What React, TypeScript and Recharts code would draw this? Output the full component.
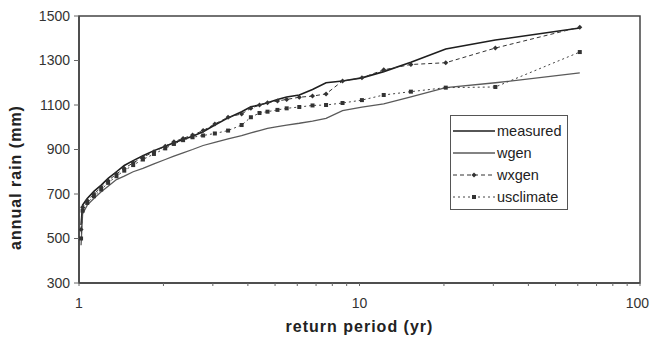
import { LineChart, Line, XAxis, YAxis, ReferenceArea, Legend, Label } from 'recharts';

// return periods (yr), ascending
const returnPeriod = [1.017, 1.03, 1.07, 1.13, 1.2, 1.27, 1.36, 1.45, 1.56, 1.69, 1.85, 2.03, 2.18, 2.35, 2.54, 2.77, 3.05, 3.4, 3.8, 4.1, 4.4, 4.7, 5.1, 5.5, 6.1, 6.8, 7.6, 8.7, 10.2, 12.2, 15.25, 20.3, 30.5, 61];

const measured = [560, 650, 680, 712, 740, 770, 800, 828, 850, 872, 895, 915, 930, 945, 960, 980, 1010, 1042, 1070, 1092, 1100, 1110, 1125, 1136, 1145, 1170, 1200, 1208, 1222, 1250, 1292, 1352, 1392, 1446];
const wgen = [470, 610, 650, 680, 710, 735, 765, 780, 800, 815, 835, 855, 870, 885, 900, 918, 932, 948, 962, 975, 985, 995, 1003, 1010, 1018, 1028, 1040, 1075, 1090, 1105, 1136, 1178, 1200, 1244];
const wxgen = [540, 640, 670, 700, 730, 760, 790, 815, 840, 865, 890, 915, 935, 950, 965, 985, 1015, 1045, 1060, 1085, 1100, 1110, 1118, 1125, 1135, 1140, 1150, 1208, 1222, 1258, 1282, 1290, 1356, 1450];
const usclimate = [500, 625, 660, 690, 720, 750, 780, 805, 830, 855, 880, 905, 925, 942, 955, 963, 972, 985, 1010, 1045, 1064, 1070, 1078, 1085, 1091, 1098, 1100, 1109, 1122, 1145, 1160, 1178, 1181, 1338];

const xTicks = [1, 2, 3, 4, 5, 6, 7, 8, 9, 10, 20, 30, 40, 50, 60, 70, 80, 90, 100];
const xLabels = [1, 10, 100];
const yTicks = [300, 500, 700, 900, 1100, 1300, 1500];

const data = returnPeriod.map((t, i) => ({
    t,
    measured: measured[i],
    wgen: wgen[i],
    wxgen: wxgen[i],
    usclimate: usclimate[i],
}));

const font = 'Liberation Sans, Arial, sans-serif';

const SquareDot = (props: any) => {
    const { cx, cy } = props;
    if (cx == null || cy == null) return null;
    return <rect x={cx - 2} y={cy - 2} width={4} height={4} fill="#333" />;
};

const DiamondDot = (props: any) => {
    const { cx, cy } = props;
    if (cx == null || cy == null) return null;
    return <path d={`M${cx},${cy - 2.5}L${cx + 2.5},${cy}L${cx},${cy + 2.5}L${cx - 2.5},${cy}Z`} fill="#333" />;
};

// x tick labels only on decades; last one kept inside the picture
const XTick = (props: any) => {
    const { x, y, payload } = props;
    const v = payload.value;
    if (!xLabels.includes(v)) return null;
    const last = v === xLabels[xLabels.length - 1];
    return (
        <text x={last ? x + 9 : x} y={y} dy={12} textAnchor={last ? 'end' : 'middle'}
            fontFamily={font} fontSize={14} fill="#333">
            {v}
        </text>
    );
};

const series = [
    { key: 'measured', stroke: '#1e1e1e', width: 1.6, dash: undefined, marker: null },
    { key: 'wgen', stroke: '#5a5a5a', width: 1.3, dash: undefined, marker: null },
    { key: 'wxgen', stroke: '#333', width: 1, dash: '4 3', marker: 'diamond' },
    { key: 'usclimate', stroke: '#444', width: 1, dash: '2 3', marker: 'square' },
];

const LegendBox = () => (
    <div style={{ fontFamily: font, fontSize: 14.5, color: '#222', padding: '4px 0 0 2px', textAlign: 'left' }}>
        {series.map((s) => (
            <div key={s.key} style={{ display: 'flex', alignItems: 'center', height: 22 }}>
                <svg width={42} height={10} style={{ marginRight: 2 }}>
                    <line x1={0} y1={5} x2={42} y2={5} stroke={s.stroke} strokeWidth={s.width} strokeDasharray={s.dash} />
                    {s.marker === 'square' && <rect x={19} y={3} width={4} height={4} fill="#333" />}
                    {s.marker === 'diamond' && <path d="M21,2.5L23.5,5L21,7.5L18.5,5Z" fill="#333" />}
                </svg>
                <span>{s.key}</span>
            </div>
        ))}
    </div>
);

const YTitle = (props: any) => {
    const { x, y, height } = props.viewBox;
    const cx = x + 17;
    const cy = y + height / 2 + 28;
    return (
        <text x={cx} y={cy} transform={`rotate(-90 ${cx} ${cy})`} textAnchor="middle" dominantBaseline="middle"
            fontFamily={font} fontSize={16} fontWeight="bold" letterSpacing={1} fill="#222">
            annual rain (mm)
        </text>
    );
};

export default function App() {
    return (
        <div style={{ position: 'absolute', left: 0, top: 0, background: '#fff' }}>
            <LineChart width={650} height={346} data={data} margin={{ top: 16, right: 10, bottom: 0, left: 0 }}>
                <XAxis
                    dataKey="t"
                    type="number"
                    scale="log"
                    domain={[1, 100]}
                    allowDataOverflow
                    ticks={xTicks}
                    interval={0}
                    tickSize={3}
                    tickMargin={10}
                    height={63}
                    axisLine={{ stroke: '#444', strokeWidth: 1.5 }}
                    tickLine={{ stroke: '#666' }}
                    tick={<XTick />}
                >
                    <Label value="return period (yr)" position="insideBottom" offset={14}
                        style={{ fontFamily: font, fontSize: 16, fontWeight: 'bold', letterSpacing: 1, fill: '#222' }} />
                </XAxis>
                <YAxis
                    type="number"
                    domain={[300, 1500]}
                    ticks={yTicks}
                    interval={0}
                    width={79}
                    tickSize={5}
                    tickMargin={4}
                    axisLine={{ stroke: '#444', strokeWidth: 1.5 }}
                    tickLine={{ stroke: '#666' }}
                    tick={{ fontFamily: font, fontSize: 14, fill: '#333' }}
                >
                    <Label content={<YTitle />} />
                </YAxis>
                <ReferenceArea x1={1} x2={100} y1={300} y2={1500} fill="none" stroke="#444" strokeWidth={1.5} ifOverflow="visible" />
                {series.map((s) => (
                    <Line
                        key={s.key}
                        dataKey={s.key}
                        type="linear"
                        stroke={s.stroke}
                        strokeWidth={s.width}
                        strokeDasharray={s.dash}
                        dot={s.marker === 'square' ? <SquareDot /> : s.marker === 'diamond' ? <DiamondDot /> : false}
                        activeDot={false}
                        isAnimationActive={false}
                    />
                ))}
                <Legend
                    layout="horizontal"
                    align="center"
                    verticalAlign="middle"
                    content={<LegendBox />}
                    wrapperStyle={{ left: 450, top: 115, width: 118, height: 95, border: '1px solid #555', background: '#fff', boxSizing: 'border-box' }}
                />
            </LineChart>
        </div>
    );
}
